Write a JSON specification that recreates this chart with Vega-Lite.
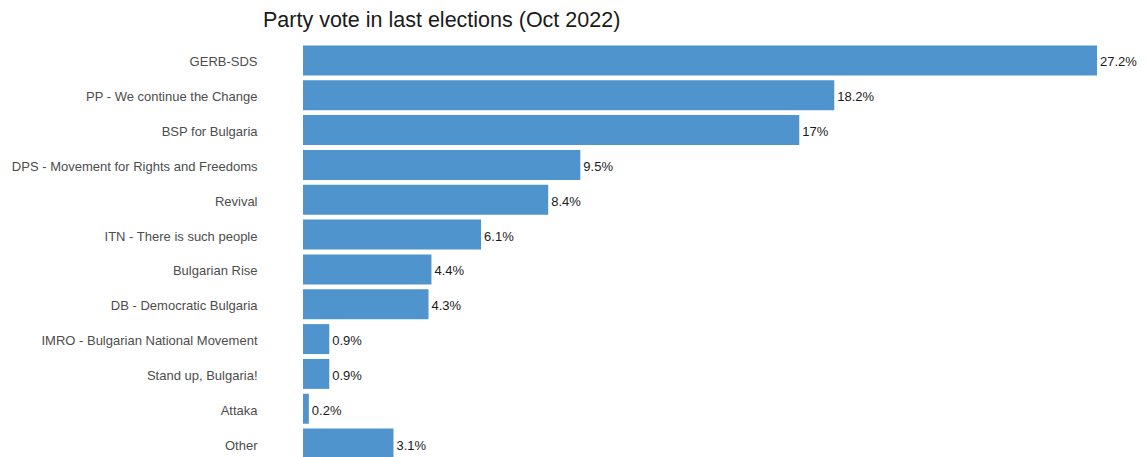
{
  "$schema": "https://vega.github.io/schema/vega-lite/v6.json",
  "width": 794,
  "height": 418,
  "autosize": "none",
  "padding": {"left": 303, "top": 43, "right": 49, "bottom": 0},
  "background": "white",
  "title": {
    "text": "Party vote in last elections (Oct 2022)",
    "anchor": "start",
    "frame": "group",
    "dx": -40,
    "font": "Liberation Sans",
    "fontSize": 21.5,
    "fontWeight": "normal",
    "color": "#1a1a1a",
    "offset": 12
  },
  "data": {
    "values": [
      {"party": "GERB-SDS", "share": 27.2},
      {"party": "PP - We continue the Change", "share": 18.2},
      {"party": "BSP for Bulgaria", "share": 17},
      {"party": "DPS - Movement for Rights and Freedoms", "share": 9.5},
      {"party": "Revival", "share": 8.4},
      {"party": "ITN - There is such people", "share": 6.1},
      {"party": "Bulgarian Rise", "share": 4.4},
      {"party": "DB - Democratic Bulgaria", "share": 4.3},
      {"party": "IMRO - Bulgarian National Movement", "share": 0.9},
      {"party": "Stand up, Bulgaria!", "share": 0.9},
      {"party": "Attaka", "share": 0.2},
      {"party": "Other", "share": 3.1}
    ]
  },
  "transform": [{"calculate": "datum.share + '%'", "as": "label"}],
  "encoding": {
    "y": {
      "field": "party",
      "type": "nominal",
      "sort": null,
      "scale": {"paddingInner": 0.14},
      "axis": {
        "title": null,
        "ticks": false,
        "domain": false,
        "labelPadding": 46,
        "labelOffset": 2,
        "labelFont": "Liberation Sans",
        "labelFontSize": 13,
        "labelColor": "#4d4d4d",
        "labelLimit": 400
      }
    },
    "x": {
      "field": "share",
      "type": "quantitative",
      "scale": {"domain": [0, 27.2], "nice": false, "zero": true},
      "axis": null
    }
  },
  "layer": [
    {"mark": {"type": "bar", "color": "#4f94cd"}},
    {
      "mark": {"type": "text", "align": "left", "dx": 3, "dy": 2, "font": "Liberation Sans", "fontSize": 13, "color": "#1a1a1a"},
      "encoding": {"text": {"field": "label"}}
    }
  ],
  "config": {"view": {"stroke": null}}
}
